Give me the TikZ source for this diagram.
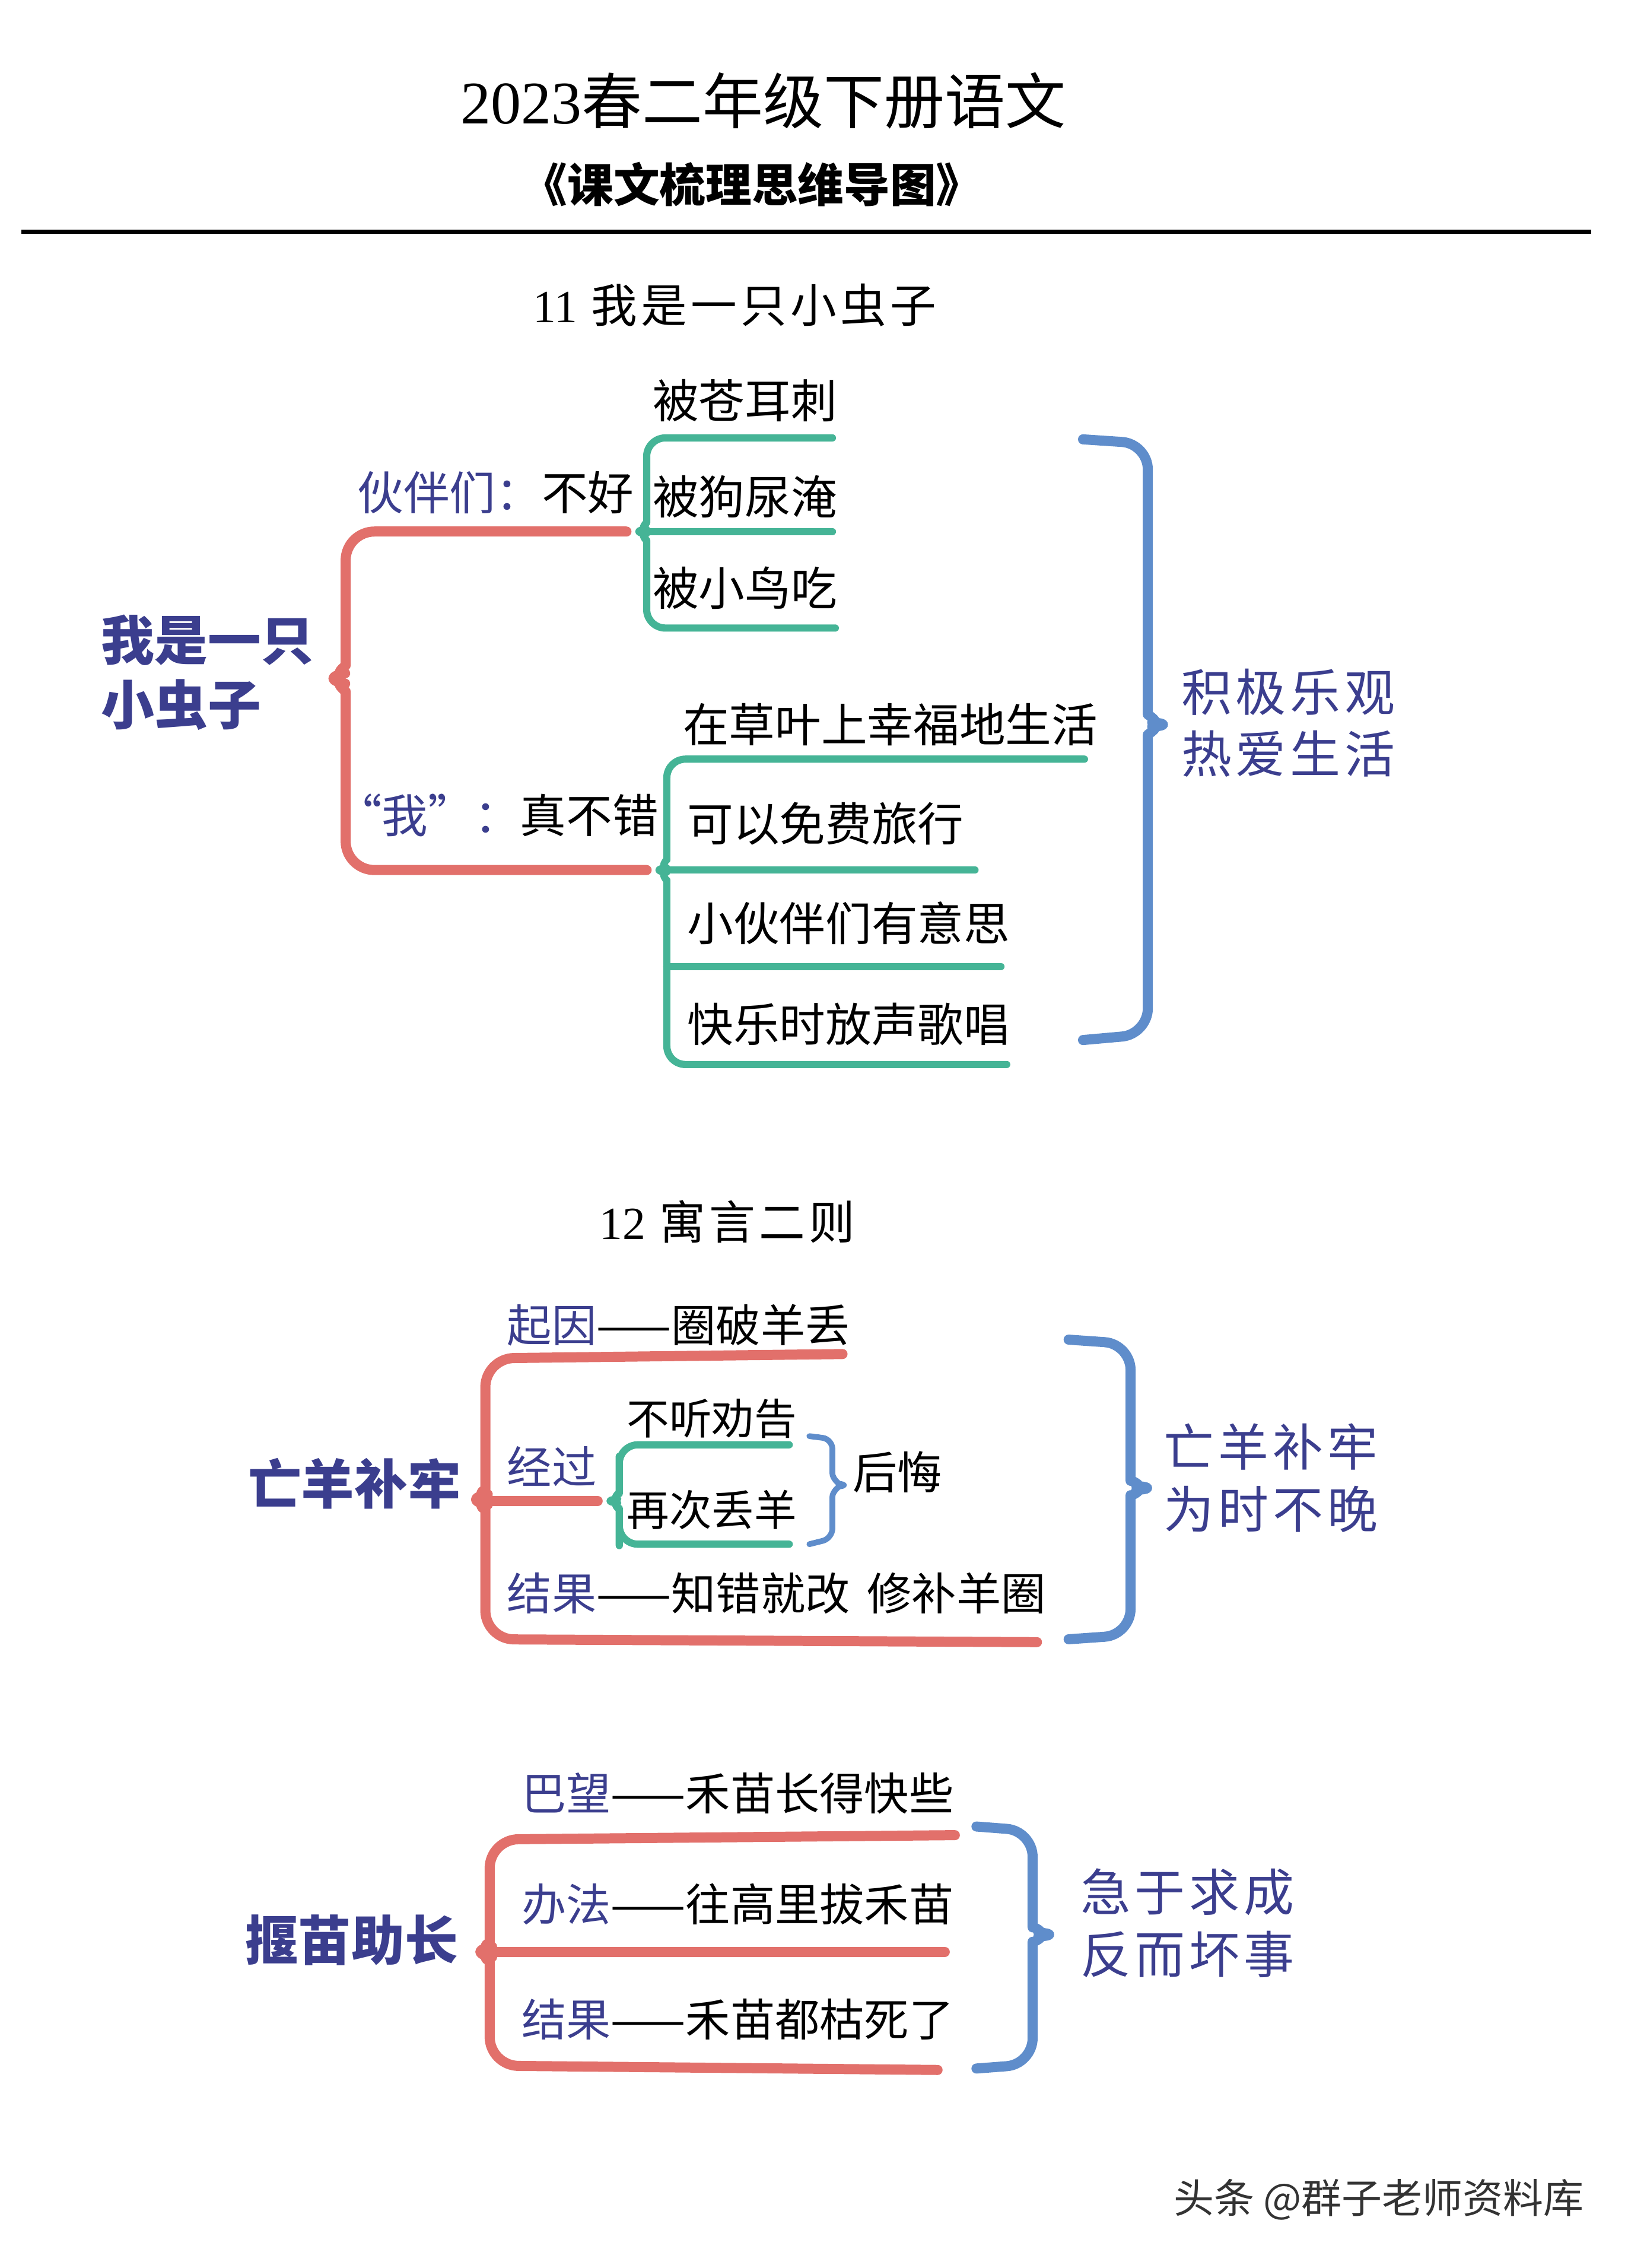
\documentclass[tikz,border=0pt]{standalone}
\usepackage{fontspec}
\newfontfamily\cjk{Noto Sans CJK SC}
\newfontfamily\cjkwide[LetterSpace=8]{Noto Sans CJK SC}
\newfontfamily\lserif{Liberation Serif}
\definecolor{navy}{HTML}{3B3E8E}
\definecolor{brred}{HTML}{E2706B}
\definecolor{brgreen}{HTML}{45B496}
\definecolor{brblue}{HTML}{5F8DCB}
\begin{document}
\begin{tikzpicture}[x=1pt,y=-1pt,
	redbr/.style={draw=brred,line width=7pt,line cap=round,line join=round,rounded corners=20pt},
	grnbr/.style={draw=brgreen,line width=5pt,line cap=round,line join=round,rounded corners=13pt},
	blubr/.style={draw=brblue,line width=7pt,line cap=round,line join=round,rounded corners=18pt},
	txt/.style={anchor=west,inner sep=0pt,font=\cjk\fontsize{32}{36}\selectfont},
	lbl/.style={anchor=west,inner sep=0pt,font=\cjk\fontsize{31}{36}\selectfont},
	rootbox/.style={anchor=west,inner sep=0pt,align=left,text=navy,font=\cjk\bfseries\fontsize{37}{45}\selectfont},
	moral/.style={anchor=west,inner sep=0pt,align=left,text=navy,font=\cjkwide\fontsize{35}{43}\selectfont},
	head/.style={inner sep=0pt,font=\cjkwide\fontsize{32}{40}\selectfont}]
	\useasboundingbox (0,0) rectangle (1130,1574.5);
	
	%titles
	\node[inner sep=0pt,font=\cjk\fontsize{42}{50}\selectfont] (title) at (530,70) {{\lserif 2023}春二年级下册语文}; %main title
	\node[inner sep=0pt,font=\cjk\bfseries\fontsize{32}{40}\selectfont] (subtitle) at (522,128) {《课文梳理思维导图》}; %subtitle
	\draw[line width=3pt] (15,161) -- (1105,161); %rule
	
	%lesson 11-----------------------------------------------
	\node[head] (head11) at (510,212) {{\lserif 11} 我是一只小虫子}; %lesson title
	\node[rootbox] (worm) at (70,467) {我是一只\\小虫子}; %root
	\node[txt] (partners) at (248,342) {{\color{navy}伙伴们：}不好}; %branch 1
	\node[txt] (me) at (233,566) {{\color{navy}“我”：}真不错}; %branch 2
	\node[txt] (cang) at (453,278) {被苍耳刺};
	\node[txt] (dog) at (453,345) {被狗尿淹};
	\node[txt] (bird) at (453,408) {被小鸟吃};
	\node[txt] (grass) at (474,503) {在草叶上幸福地生活};
	\node[txt] (trip) at (477,572) {可以免费旅行};
	\node[txt] (fun) at (477,641) {小伙伴们有意思};
	\node[txt] (sing) at (477,711) {快乐时放声歌唱};
	\node[moral] (love) at (820,502) {积极乐观\\热爱生活}; %moral
	\draw[redbr] (435,369) -- (240,369) -- (240,442) .. controls (240,462) and (231,469) .. (220,471) .. controls (231,473) and (240,480) .. (240,500) -- (240,604) -- (449,604); %red bracket
	\draw[grnbr] (578,304) -- (449,304) -- (449,350) .. controls (449,362) and (444,368) .. (436,369) .. controls (444,370) and (449,376) .. (449,388) -- (449,436) -- (580,436); %green bracket 1
	\draw[grnbr] (449,369) -- (578,369);
	\draw[grnbr] (753,527) -- (463,527) -- (463,584) .. controls (463,596) and (458,603) .. (450,604) .. controls (458,605) and (463,612) .. (463,624) -- (463,739) -- (699,739); %green bracket 2
	\draw[grnbr] (463,604) -- (677,604);
	\draw[grnbr] (463,671) -- (695,671);
	\draw[blubr] (752,305) -- (797,308) -- (797,478) .. controls (797,496) and (806,502) .. (818,503) .. controls (806,504) and (797,510) .. (797,528) -- (797,718) -- (752,722); %blue brace
	
	%lesson 12 - sheep-------------------------------------
	\node[head] (head12) at (505,848) {{\lserif 12} 寓言二则}; %lesson title
	\node[rootbox] (sheep) at (172,1030) {亡羊补牢}; %root
	\node[lbl] (cause) at (352,920) {{\color{navy}起因}——圈破羊丢};
	\node[lbl] (course) at (352,1018) {{\color{navy}经过}};
	\node[lbl,font=\cjk\fontsize{29.5}{36}\selectfont] (advice) at (435,985) {不听劝告};
	\node[lbl,font=\cjk\fontsize{29.5}{36}\selectfont] (again) at (435,1048) {再次丢羊};
	\node[lbl] (regret) at (592,1022) {后悔};
	\node[lbl] (result) at (352,1106) {{\color{navy}结果}——知错就改\hspace{12pt}修补羊圈};
	\node[moral] (late) at (808,1026) {亡羊补牢\\为时不晚}; %moral
	\draw[redbr] (585,940) -- (337,943) -- (337,1016) .. controls (337,1032) and (330,1039) .. (319,1041) .. controls (330,1043) and (337,1050) .. (337,1066) -- (337,1138) -- (720,1140); %red bracket
	\draw[redbr] (337,1042) -- (415,1042);
	\draw[grnbr] (548,1003) -- (430,1003) -- (430,1024) .. controls (430,1035) and (425,1041) .. (416,1042) .. controls (425,1043) and (430,1049) .. (430,1060) -- (430,1072) -- (548,1072); %green bracket
	\draw[blubr,line width=4pt,rounded corners=7pt] (562,997) -- (578,999) -- (578,1016) .. controls (578,1026) and (582,1030) .. (590,1031) .. controls (582,1032) and (578,1036) .. (578,1046) -- (578,1068) -- (562,1072); %small brace
	\draw[blubr] (742,930) -- (785,933) -- (785,1010) .. controls (785,1027) and (794,1032) .. (807,1033) .. controls (794,1034) and (785,1039) .. (785,1056) -- (785,1135) -- (742,1138); %blue brace
	
	%lesson 12 - seedlings----------------------------------
	\node[rootbox] (pull) at (170,1347) {揠苗助长}; %root
	\node[lbl] (hope) at (362,1245) {{\color{navy}巴望}——禾苗长得快些};
	\node[lbl] (way) at (362,1322) {{\color{navy}办法}——往高里拔禾苗};
	\node[lbl] (end) at (362,1402) {{\color{navy}结果}——禾苗都枯死了};
	\node[moral] (haste) at (750,1335) {急于求成\\反而坏事}; %moral
	\draw[redbr] (663,1274) -- (340,1277) -- (340,1330) .. controls (340,1347) and (333,1353) .. (322,1355) .. controls (333,1357) and (340,1363) .. (340,1380) -- (340,1434) -- (651,1437); %red bracket
	\draw[redbr] (340,1355) -- (656,1355);
	\draw[blubr] (678,1268) -- (717,1271) -- (717,1320) .. controls (717,1337) and (726,1342) .. (739,1343) .. controls (726,1344) and (717,1349) .. (717,1366) -- (717,1433) -- (678,1436); %blue brace
	
	%watermark
	\node[inner sep=0pt,anchor=east,text=black!80,font=\cjk\fontsize{28}{34}\selectfont] (mark) at (1100,1527) {头条 @群子老师资料库};
\end{tikzpicture}
\end{document}
